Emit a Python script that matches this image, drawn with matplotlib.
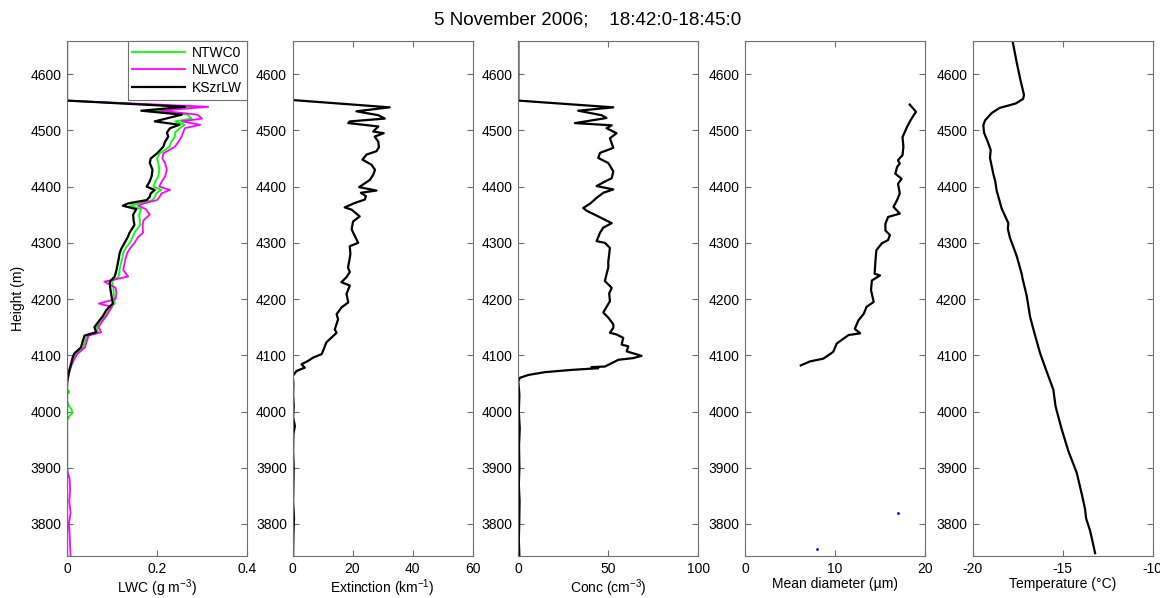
import numpy as np
import matplotlib
matplotlib.use("Agg")
import matplotlib.pyplot as plt

plt.rcParams['font.family'] = ['Liberation Sans', 'DejaVu Sans']
plt.rcParams['mathtext.fontset'] = 'custom'
plt.rcParams['mathtext.rm'] = 'Liberation Sans'
plt.rcParams['mathtext.it'] = 'Liberation Sans'
plt.rcParams['mathtext.sf'] = 'Liberation Sans'
plt.rcParams['axes.unicode_minus'] = False

title = "5 November 2006;    18:42:0-18:45:0"

# LWC panel (three probes on common heights)
lwc_h = [4659, 4553, 4542, 4535, 4528, 4521, 4516, 4510, 4504, 4496, 4489, 4480,
         4471, 4459, 4450, 4442, 4430, 4418, 4408, 4400, 4394, 4388, 4382, 4376,
         4370, 4366, 4360, 4350, 4340, 4332, 4318, 4310, 4300, 4290, 4282, 4272,
         4264, 4252, 4240, 4231, 4220, 4210, 4200, 4192, 4186, 4180, 4170, 4162,
         4150, 4141, 4135, 4125, 4114, 4103, 4097, 4091, 4082, 4073, 4062, 4052,
         4040, 4035, 4030, 4020, 4010, 4004, 3998, 3992, 3985, 3975, 3950, 3920,
         3900, 3890, 3880, 3860, 3840, 3820, 3800, 3780, 3760, 3743]
ksz_lw = [0, 0, 0.262, 0.165, 0.255, 0.220, 0.195, 0.250, 0.229, 0.222, 0.225, 0.218,
          0.214, 0.200, 0.186, 0.184, 0.190, 0.188, 0.183, 0.177, 0.195, 0.186, 0.184, 0.177,
          0.135, 0.124, 0.154, 0.147, 0.148, 0.150, 0.139, 0.135, 0.128, 0.121, 0.117, 0.115,
          0.113, 0.110, 0.106, 0.095, 0.096, 0.098, 0.100, 0.102, 0.094, 0.087, 0.080, 0.072,
          0.061, 0.065, 0.039, 0.035, 0.031, 0.016, 0.013, 0.011, 0.008, 0.005, 0.002, 0.0,
          0, 0, 0, 0, 0, 0, 0, 0, 0, 0, 0, 0,
          0, 0, 0, 0, 0, 0, 0, 0, 0, 0]
ntwc0 = [0, 0, 0.280, 0.190, 0.268, 0.277, 0.240, 0.262, 0.251, 0.240, 0.240, 0.232,
         0.228, 0.206, 0.200, 0.203, 0.205, 0.203, 0.196, 0.192, 0.210, 0.198, 0.196, 0.190,
         0.160, 0.140, 0.165, 0.160, 0.162, 0.163, 0.150, 0.146, 0.140, 0.130, 0.125, 0.123,
         0.120, 0.117, 0.115, 0.100, 0.103, 0.104, 0.105, 0.106, 0.099, 0.093, 0.085, 0.076,
         0.066, 0.069, 0.045, 0.040, 0.036, 0.020, 0.016, 0.013, 0.009, 0.006, 0.003, 0.001,
         0.0, 0.005, 0.0, 0.0, 0.004, 0.010, 0.012, 0.006, 0.0, 0.0, 0, 0,
         0, 0, 0, 0, 0, 0, 0, 0, 0, 0]
nlwc0 = [0, 0, 0.314, 0.210, 0.290, 0.300, 0.255, 0.296, 0.262, 0.258, 0.255, 0.248,
         0.240, 0.214, 0.212, 0.218, 0.222, 0.218, 0.210, 0.205, 0.229, 0.210, 0.206, 0.200,
         0.170, 0.158, 0.175, 0.184, 0.170, 0.168, 0.169, 0.158, 0.150, 0.140, 0.134, 0.130,
         0.128, 0.125, 0.136, 0.083, 0.108, 0.110, 0.108, 0.071, 0.100, 0.095, 0.088, 0.080,
         0.070, 0.076, 0.048, 0.044, 0.040, 0.024, 0.019, 0.015, 0.010, 0.006, 0.003, 0.001,
         0, 0, 0, 0, 0, 0, 0, 0, 0, 0, 0, 0,
         0, 0.002, 0.006, 0.007, 0.005, 0.008, 0.004, 0.006, 0.007, 0.008]

# Extinction
ext_h = [4659, 4554, 4541, 4534, 4527, 4521, 4516, 4513, 4507, 4498, 4495, 4489,
         4480, 4470, 4463, 4457, 4448, 4439, 4430, 4421, 4412, 4404, 4399, 4393,
         4389, 4383, 4377, 4371, 4363, 4359, 4347, 4338, 4324, 4312, 4300, 4294,
         4280, 4267, 4256, 4248, 4239, 4230, 4224, 4209, 4194, 4185, 4173, 4164,
         4146, 4140, 4123, 4108, 4102, 4096, 4090, 4084, 4078, 4072, 4063, 4050,
         4030, 4010, 3990, 3974, 3960, 3930, 3900, 3870, 3840, 3810, 3780, 3743]
extinction = [0, 0, 32.4, 21.3, 28.6, 30.8, 19.1, 18.6, 28.6, 26.9, 30.4, 27.4,
              28.6, 28.8, 28.0, 24.7, 23.3, 26.3, 27.5, 26.9, 25.8, 23.6, 22.2, 28.0,
              22.8, 24.5, 24.1, 20.8, 17.4, 19.7, 22.4, 20.2, 19.7, 20.8, 21.9, 19.1,
              19.3, 18.9, 18.5, 19.1, 18.0, 16.3, 19.1, 18.0, 18.6, 16.3, 14.7, 15.2,
              14.1, 14.7, 11.3, 10.2, 9.7, 6.9, 5.2, 3.0, 4.1, 1.3, 0.1, 0.3,
              0.2, 0.4, 0.2, 0.8, 0.3, 0.2, 0.4, 0.3, 0.2, 0.5, 0.3, 0.2]

# Concentration
conc_h = [4659, 4553, 4541, 4535, 4527, 4522, 4513, 4509, 4504, 4495, 4486, 4469,
          4460, 4451, 4442, 4427, 4415, 4409, 4401, 4395, 4389, 4380, 4370, 4362,
          4357, 4344, 4335, 4327, 4318, 4303, 4300, 4291, 4280, 4267, 4256, 4244,
          4232, 4220, 4210, 4196, 4186, 4176, 4167, 4155, 4149, 4140, 4137, 4131,
          4119, 4116, 4107, 4099, 4095, 4092, 4086, 4080, 4079, 4077, 4074, 4070,
          4065, 4060, 4054, 4030, 4000, 3970, 3940, 3900, 3870, 3840, 3800, 3770, 3743]
conc = [0, 0, 52.8, 33.3, 46.3, 49.0, 31.5, 51.9, 49.0, 54.6, 50.9, 52.8,
        45.4, 44.4, 50.0, 52.8, 51.9, 48.1, 43.5, 52.8, 47.2, 43.5, 40.0, 36.1,
        38.0, 46.3, 51.9, 47.2, 45.4, 43.5, 48.1, 50.9, 50.5, 50.0, 50.0, 49.0,
        48.1, 51.9, 50.5, 50.9, 49.0, 47.2, 50.0, 52.8, 52.8, 50.9, 54.6, 58.3,
        57.4, 61.1, 60.2, 68.5, 63.9, 55.6, 51.9, 48.1, 40.7, 44.4, 29.6, 14.8,
        5.6, 0.9, 0.0, 0.6, 0.3, 0.8, 0.4, 0.6, 0.3, 0.7, 0.5, 0.3, 0.6]

# Mean diameter
diam_h = [4546, 4533, 4521, 4506, 4488, 4471, 4456, 4447, 4441, 4435, 4423, 4414,
          4405, 4388, 4376, 4364, 4352, 4346, 4334, 4322, 4314, 4305, 4299, 4287,
          4269, 4245, 4242, 4233, 4216, 4195, 4186, 4174, 4162, 4147, 4139, 4136,
          4121, 4106, 4094, 4089, 4082]
diam = [18.3, 19.0, 18.5, 18.0, 17.5, 17.6, 17.5, 17.0, 17.2, 16.9, 16.7, 17.4,
        17.0, 17.2, 16.9, 16.5, 17.2, 15.9, 15.6, 15.6, 16.1, 15.9, 15.2, 14.6,
        14.5, 14.4, 15.0, 14.1, 14.0, 14.3, 13.5, 13.2, 12.6, 12.2, 12.8, 11.5,
        10.2, 9.8, 8.7, 7.2, 6.2]
diam_pts_h = [3755, 3820]
diam_pts = [8.0, 17.0]

# Temperature
temp_h = [4658, 4620, 4590, 4563, 4556, 4548, 4545, 4540, 4531, 4518, 4509, 4496,
          4477, 4465, 4451, 4422, 4410, 4393, 4361, 4335, 4325, 4309, 4277, 4245,
          4235, 4206, 4168, 4136, 4104, 4071, 4039, 4010, 4001, 3969, 3930, 3891,
          3853, 3827, 3810, 3788, 3770, 3748]
temp = [-17.78, -17.55, -17.35, -17.15, -17.2, -17.6, -17.93, -18.5, -18.94, -19.31, -19.41, -19.37,
        -19.13, -19.0, -19.04, -18.85, -18.75, -18.67, -18.39, -18.02, -18.05, -17.93, -17.56, -17.28,
        -17.22, -17.0, -16.81, -16.54, -16.26, -15.89, -15.52, -15.4, -15.33, -15.06, -14.69, -14.22,
        -13.94, -13.76, -13.7, -13.48, -13.35, -13.2]

ylims = (3743, 4659)
yticks = [3800, 3900, 4000, 4100, 4200, 4300, 4400, 4500, 4600]

fig = plt.figure(figsize=(11.6, 5.98), dpi=100)
lefts = [67, 292.5, 518.3, 745, 972.7]
axes = [fig.add_axes([l / 1160, 42 / 598, 180 / 1160, 515 / 598]) for l in lefts]

ax = axes[0]
ax.plot(ntwc0, lwc_h, color='#00ff00', lw=1.3, label='NTWC0')
ax.plot(nlwc0, lwc_h, color='#ff00ff', lw=1.3, label='NLWC0')
ax.plot(ksz_lw, lwc_h, color='black', lw=1.6, label='KSzrLW')
ax.set_xlim(0, 0.4)
ax.set_xticks([0, 0.2, 0.4])
ax.set_xticklabels(['0', '0.2', '0.4'])
ax.set_xlabel('LWC (g m$^{-3}$)')
ax.set_ylabel('Height (m)')
leg = ax.legend(loc='upper right', fontsize=10, handlelength=3.8, borderaxespad=0,
                fancybox=False, framealpha=1, borderpad=0.35, labelspacing=0.25,
                handletextpad=0.5)
leg.get_frame().set_edgecolor('#6e6e6e')
leg.get_frame().set_linewidth(0.8)

ax = axes[1]
ax.plot(extinction, ext_h, color='black', lw=1.6)
ax.set_xlim(0, 60)
ax.set_xticks([0, 20, 40, 60])
ax.set_xlabel('Extinction (km$^{-1}$)')

ax = axes[2]
ax.plot(conc, conc_h, color='black', lw=1.6)
ax.set_xlim(0, 100)
ax.set_xticks([0, 50, 100])
ax.set_xlabel('Conc (cm$^{-3}$)')

ax = axes[3]
ax.plot(diam, diam_h, color='black', lw=1.6)
ax.plot(diam_pts, diam_pts_h, ls='none', marker='.', ms=2, color='blue')
ax.set_xlim(0, 20)
ax.set_xticks([0, 10, 20])
ax.set_xlabel('Mean diameter (µm)')

ax = axes[4]
ax.plot(temp, temp_h, color='black', lw=1.6)
ax.set_xlim(-20, -10)
ax.set_xticks([-20, -15, -10])
ax.set_xlabel('Temperature (°C)')

for ax in axes:
    ax.set_ylim(*ylims)
    ax.set_yticks(yticks)
    ax.tick_params(direction='in', length=4, width=0.8, color='#6e6e6e',
                   top=True, right=True, labelsize=10, pad=4)
    ax.xaxis.labelpad = 1
    ax.xaxis.label.set_fontsize(10)
    ax.yaxis.label.set_fontsize(10)
    for s in ax.spines.values():
        s.set_color('#6e6e6e')
        s.set_linewidth(0.8)

fig.text(588 / 1160, 1 - 20 / 598, title, ha='center', va='center', fontsize=13.5)

fig.savefig('out.png', dpi=100)
